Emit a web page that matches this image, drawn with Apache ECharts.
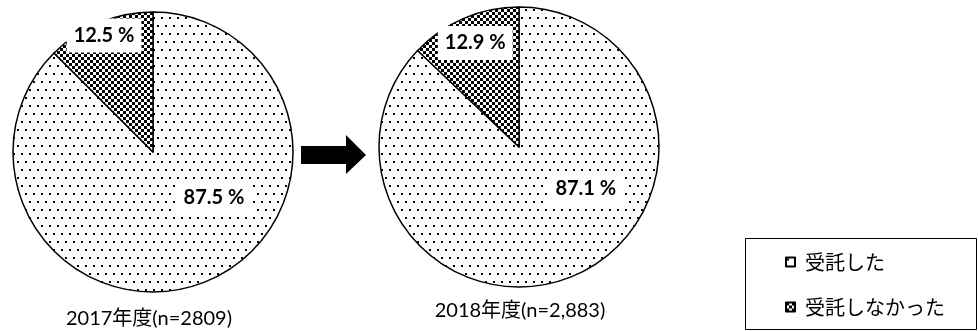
<!DOCTYPE html>
<html>
<head>
<meta charset="utf-8">
<script src="https://cdn.jsdelivr.net/npm/echarts@6/dist/echarts.min.js"></script>
<style>
  html, body { margin: 0; padding: 0; background: #fff; }
  #chart { width: 979px; height: 331px; }
</style>
</head>
<body>
<div id="chart"></div>
<script>
// Response categories and yearly shares (%)
const categories = ['受託した', '受託しなかった'];
const yearCaptions = ['2017年度(n=2809)', '2018年度(n=2,883)'];
const values2017 = [87.5, 12.5];
const values2018 = [87.1, 12.9];

// Fill patterns: sparse dots and a fine checkerboard
function dotPattern() {
  const c = document.createElement('canvas');
  c.width = 8; c.height = 16;
  const g = c.getContext('2d');
  g.fillStyle = '#fff'; g.fillRect(0, 0, 8, 16);
  g.fillStyle = '#000';
  g.fillRect(1, 1, 2, 2);
  g.fillRect(5, 9, 2, 2);
  return c;
}
function checkerPattern() {
  const c = document.createElement('canvas');
  c.width = 6; c.height = 6;
  const g = c.getContext('2d');
  g.fillStyle = '#fff'; g.fillRect(0, 0, 6, 6);
  g.fillStyle = '#000';
  g.fillRect(0, 0, 3, 3);
  g.fillRect(3, 3, 3, 3);
  return c;
}
const fills = [
  { image: dotPattern(), repeat: 'repeat' },
  { image: checkerPattern(), repeat: 'repeat' }
];

const latin = 'Lato, "Noto Sans CJK JP", sans-serif';
const cjk = '"Noto Sans CJK JP", sans-serif';

const labelBase = {
  show: true,
  position: 'inside',
  fontFamily: latin,
  fontWeight: 'bold',
  fontSize: 20,
  color: '#000',
  backgroundColor: '#fff',
  padding: [7, 7],
  formatter: p => p.value.toFixed(1) + ' %'
};

function pieSeries(values, center, offsets) {
  return {
    type: 'pie',
    radius: 140,
    center: center,
    startAngle: 90,
    clockwise: true,
    silent: true,
    avoidLabelOverlap: false,
    labelLine: { show: false },
    itemStyle: { borderColor: '#000', borderWidth: 1.5 },
    data: values.map((v, i) => ({
      name: categories[i],
      value: v,
      itemStyle: { color: fills[i] },
      label: Object.assign({}, labelBase, { offset: offsets[i] })
    }))
  };
}

const chart = echarts.init(document.getElementById('chart'), null, { renderer: 'canvas' });
chart.setOption({
  animation: false,
  legend: {
    orient: 'vertical',
    left: 780,
    top: 247,
    padding: 5,
    itemWidth: 9,
    itemHeight: 9,
    itemGap: 25,
    icon: 'rect',
    selectedMode: false,
    data: categories,
    textStyle: { fontFamily: cjk, fontSize: 20, color: '#000', padding: [0, 0, 0, 5] }
  },
  series: [
    pieSeries(values2017, [153, 152], [[33, -22], [-21, -49]]),
    pieSeries(values2018, [519, 147], [[38, -26], [-15, -37]])
  ],
  graphic: [
    {
      type: 'polygon',
      shape: { points: [[301, 146], [346, 146], [346, 135], [366, 155], [346, 174], [346, 164], [301, 164]] },
      style: { fill: '#000' }
    },
    {
      type: 'rect',
      shape: { x: 745.5, y: 238.5, width: 231, height: 91 },
      style: { fill: 'none', stroke: '#000', lineWidth: 1 }
    },
    {
      type: 'text',
      style: { text: yearCaptions[0], x: 149, y: 319, align: 'center', verticalAlign: 'middle', font: '20px ' + latin, fill: '#000' }
    },
    {
      type: 'text',
      style: { text: yearCaptions[1], x: 520, y: 311, align: 'center', verticalAlign: 'middle', font: '20px ' + latin, fill: '#000' }
    }
  ]
});
</script>
</body>
</html>
